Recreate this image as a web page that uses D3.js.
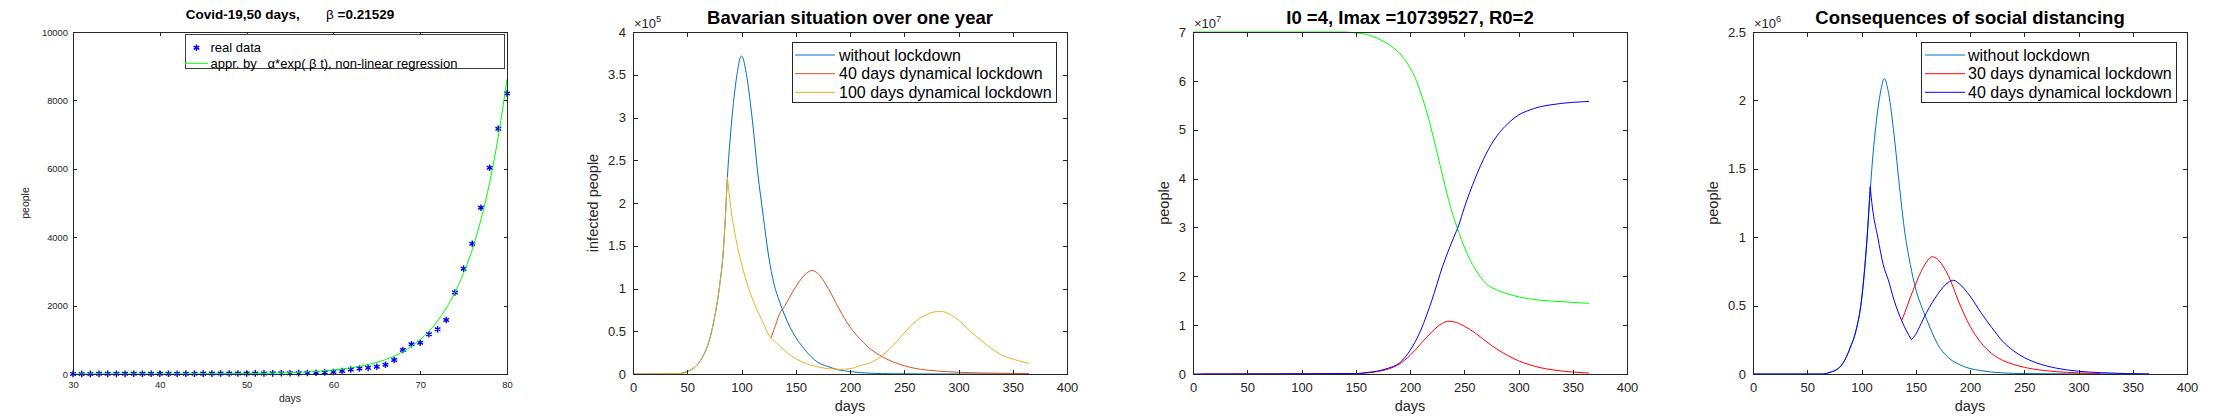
<!DOCTYPE html>
<html><head><meta charset="utf-8">
<script src="https://cdn.jsdelivr.net/npm/d3@7"></script>
<style>
html,body{margin:0;padding:0;background:#fff;}
svg{display:block;}
text{font-family:"Liberation Sans",Arial,Helvetica,sans-serif;}
</style></head><body>
<svg id="chart" width="2240" height="420"></svg>
<script>
// ---------- Panel 1: Covid-19, 50 days ----------
const p1Days = [30,31,32,33,34,35,36,37,38,39,40,41,42,43,44,45,46,47,48,49,50,51,52,53,54,55,56,57,58,59,60,61,62,63,64,65,66,67,68,69,70,71,72,73,74,75,76,77,78,79,80];
const p1Real = [3,3,3,4,4,5,5,6,6,7,8,8,9,10,10,11,12,13,14,15,16,17,18,19,20,22,25,30,35,45,60,90,130,160,180,210,270,410,700,870,915,1160,1305,1580,2385,3080,3810,4860,6030,7170,8200];
const p1FitDays = [30,35,40,45,50,55,60,62,64,66,68,70,72,74,75,76,77,78,79,80];
const p1Fit = [0.2,0.6,1.6,4.7,13.6,40,117,180,275,420,650,1005,1550,2385,2950,3640,4520,5600,6950,8620];
const p1XTicks = [30,40,50,60,70,80];
const p1YTicks = [0,2000,4000,6000,8000,10000];
const p1Legend = ["real data", "appr. by   \u03b1*exp( \u03b2 t), non-linear regression"];

// ---------- Panel 2: Bavarian situation (x 10^5) ----------
const p2WithoutDays = [0,40,50,55,60,65,70,75,80,83,85,87,90,95,100,105,110,115,120,125,130,135,140,145,150,160,170,180,190,200,210,220,240,270,300,330,365];
const p2Without = [0,0.002,0.03,0.06,0.12,0.22,0.38,0.65,1.05,1.4,1.8,2.3,2.82,3.43,3.72,3.47,2.97,2.35,1.85,1.38,1.05,0.85,0.68,0.54,0.43,0.26,0.14,0.086,0.047,0.03,0.015,0.008,0.003,0.001,0,0,0];
const p2L40Days = [127,130,135,140,150,160,165,170,180,190,200,210,220,230,240,250,260,270,280,290,300,320,340,365];
const p2L40 = [0.42,0.52,0.70,0.80,1.02,1.18,1.21,1.18,1.0,0.76,0.55,0.40,0.28,0.20,0.14,0.097,0.066,0.047,0.035,0.027,0.02,0.012,0.008,0.005];
const p2L100Days = [0,45,50,55,60,65,70,75,80,83,85,87,90,95,100,110,120,127,130,140,150,160,170,180,190,200,210,220,230,240,250,260,270,280,285,290,300,310,320,330,340,350,360,365];
const p2L100 = [0,0.005,0.03,0.06,0.12,0.22,0.38,0.65,1.05,1.4,1.8,2.3,1.96,1.57,1.29,0.88,0.6,0.42,0.39,0.27,0.18,0.12,0.085,0.062,0.055,0.062,0.1,0.14,0.22,0.34,0.48,0.61,0.69,0.73,0.73,0.71,0.63,0.51,0.40,0.30,0.22,0.175,0.14,0.125];
const p2Legend = ["without lockdown", "40 days dynamical lockdown", "100 days dynamical lockdown"];
const daysTicks = [0,50,100,150,200,250,300,350,400];
const p2YTicks = [0,0.5,1,1.5,2,2.5,3,3.5,4];

// ---------- Panel 3: SIR (x 10^7) ----------
const p3SDays = [0,140,150,160,170,180,190,200,205,210,216,222,228,234,240,245,250,255,260,270,280,290,300,320,340,365];
const p3S = [7.0,7.0,6.98,6.95,6.87,6.75,6.57,6.27,6.05,5.75,5.32,4.8,4.25,3.7,3.22,2.9,2.6,2.35,2.15,1.85,1.72,1.64,1.58,1.51,1.48,1.445];
const p3IDays = [7,150,160,170,180,190,200,210,220,230,236,240,250,260,270,280,290,300,310,320,330,340,350,365];
const p3I = [0,0.005,0.02,0.05,0.1,0.2,0.38,0.62,0.86,1.04,1.08,1.07,0.98,0.84,0.67,0.51,0.38,0.27,0.19,0.13,0.09,0.06,0.04,0.02];
const p3RDays = [0,150,160,170,180,190,200,210,220,230,240,245,250,260,270,280,290,300,310,320,330,340,350,365];
const p3R = [0,0.01,0.03,0.06,0.12,0.22,0.48,0.9,1.5,2.2,2.78,3.05,3.4,4.0,4.5,4.87,5.12,5.30,5.40,5.47,5.51,5.54,5.56,5.58];
const p3YTicks = [0,1,2,3,4,5,6,7];

// ---------- Panel 4: Consequences of social distancing (x 10^6) ----------
const p4WithoutDays = [0,65,70,80,90,95,100,105,110,115,118,121,125,130,135,140,145,150,155,160,170,180,190,200,210,220,230,250,300,365];
const p4Without = [0,0,0.01,0.05,0.2,0.32,0.54,0.98,1.55,1.93,2.08,2.16,2.05,1.75,1.37,1.03,0.8,0.62,0.5,0.4,0.22,0.12,0.07,0.04,0.025,0.014,0.008,0.003,0.001,0];
const p4L30Days = [137,140,145,150,155,160,165,170,175,180,190,200,210,220,230,240,250,260,270,280,300,320];
const p4L30 = [0.39,0.45,0.56,0.66,0.75,0.82,0.857,0.84,0.79,0.72,0.52,0.35,0.23,0.15,0.10,0.07,0.049,0.034,0.024,0.017,0.008,0.004];
const p4L40Days = [0,65,70,80,90,95,100,105,108,110,115,120,125,130,137,146,150,155,160,170,180,185,190,200,210,220,230,240,250,260,270,280,300,320,365];
const p4L40 = [0,0,0.01,0.05,0.2,0.32,0.54,0.98,1.37,1.22,1.0,0.8,0.68,0.54,0.39,0.25,0.29,0.37,0.45,0.58,0.67,0.685,0.66,0.57,0.45,0.34,0.24,0.17,0.12,0.085,0.06,0.042,0.02,0.01,0];
const p4YTicks = [0,0.5,1,1.5,2,2.5];
const p4Legend = ["without lockdown", "30 days dynamical lockdown", "40 days dynamical lockdown"];

// ---------- drawing ----------
const svg = d3.select('#chart');
const AX = {left: 73, top: 32, width: 434, height: 342};

const MATLAB = {tick: 4.5, tickFont: 13, xPad: 9, yPad: 7, labelFont: 14.5, titleFont: 18.5, titleY: 23.5,
  xlabelY: 411, axisColor: '#262626', legendFont: 16};
const OCTAVE = {tick: 3.5, tickFont: 9.4, xPad: 7.5, yPad: 5, labelFont: 10.5, titleFont: 13.5, titleY: 18.5,
  xlabelY: 401.5, axisColor: '#262626', legendFont: 13};

function splitAt(pts, cusps) {
  const segs = [];
  let cur = [];
  pts.forEach(p => {
    cur.push(p);
    if (cusps.includes(p[0])) { segs.push(cur); cur = [p]; }
  });
  if (cur.length > 1) segs.push(cur);
  return segs;
}

function drawPanel(p) {
  const s = p.style;
  const g = svg.append('g').attr('transform', `translate(${p.ox},0)`);
  const L = AX.left, T = AX.top, R = AX.left + AX.width, B = AX.top + AX.height;
  const x = d3.scaleLinear().domain(p.xDomain).range([L, R]);
  const y = d3.scaleLinear().domain(p.yDomain).range([B, T]);

  p.series.forEach(se => {
    const pts = se.x.map((d, i) => [d, se.y[i]]);
    if (se.type === 'line') {
      const line = d3.line().x(d => x(d[0])).y(d => y(d[1])).curve(d3.curveMonotoneX);
      splitAt(pts, se.cusps || []).forEach(seg => {
        g.append('path').attr('d', line(seg)).attr('fill', 'none')
          .attr('stroke', se.color).attr('stroke-width', se.width || 1);
      });
    } else {
      g.append('g').selectAll('path').data(pts).join('path')
        .attr('transform', d => `translate(${x(d[0])},${y(d[1])})`)
        .attr('d', d3.symbol(d3.symbolAsterisk, se.size)())
        .attr('fill', 'none').attr('stroke', se.color).attr('stroke-width', 1.4);
    }
  });

  const fmt = d => String(d);
  const axB = g.append('g').attr('transform', `translate(0,${B})`)
    .call(d3.axisBottom(x).tickValues(p.xTicks).tickSizeInner(-s.tick).tickSizeOuter(0).tickPadding(s.xPad).tickFormat(fmt));
  const axT = g.append('g').attr('transform', `translate(0,${T})`)
    .call(d3.axisTop(x).tickValues(p.xTicks).tickSizeInner(-s.tick).tickSizeOuter(0).tickFormat(() => ''));
  const axL = g.append('g').attr('transform', `translate(${L},0)`)
    .call(d3.axisLeft(y).tickValues(p.yTicks).tickSizeInner(-s.tick).tickSizeOuter(0).tickPadding(s.yPad).tickFormat(fmt));
  const axR = g.append('g').attr('transform', `translate(${R},0)`)
    .call(d3.axisRight(y).tickValues(p.yTicks).tickSizeInner(-s.tick).tickSizeOuter(0).tickFormat(() => ''));
  [axB, axT, axL, axR].forEach(a => {
    a.select('.domain').remove();
    a.selectAll('line').attr('stroke', s.axisColor).attr('shape-rendering', 'crispEdges');
    a.selectAll('text').attr('fill', s.axisColor).style('font-size', s.tickFont + 'px')
      .style('font-family', '"Liberation Sans", Arial, sans-serif');
  });
  g.append('rect').attr('x', L).attr('y', T).attr('width', AX.width).attr('height', AX.height)
    .attr('fill', 'none').attr('stroke', s.axisColor).attr('shape-rendering', 'crispEdges');

  if (p.exponent) {
    const t = g.append('text').attr('x', L + 1).attr('y', T - 4).attr('fill', s.axisColor)
      .style('font-size', s.tickFont + 'px');
    t.append('tspan').text('\u00d710');
    t.append('tspan').attr('dy', -6).style('font-size', (s.tickFont * 0.72) + 'px').text(p.exponent);
  }

  const tt = g.append('text').attr('x', (L + R) / 2).attr('y', s.titleY).attr('text-anchor', 'middle')
    .attr('fill', '#000').style('font-size', s.titleFont + 'px').style('font-weight', 'bold')
    .style('white-space', 'pre');
  p.title.forEach(part => {
    tt.append('tspan').style('font-weight', part.w || 'bold').text(part.t);
  });

  g.append('text').attr('x', (L + R) / 2).attr('y', s.xlabelY).attr('text-anchor', 'middle')
    .attr('fill', s.axisColor).style('font-size', s.labelFont + 'px').text(p.xlabel);
  let maxW = 0;
  axL.selectAll('text').each(function () { maxW = Math.max(maxW, this.getComputedTextLength()); });
  const yl = L - s.yPad - maxW - p.ylabelGap;
  g.append('text').attr('transform', `translate(${yl},${(T + B) / 2}) rotate(-90)`)
    .attr('text-anchor', 'middle').attr('fill', s.axisColor)
    .style('font-size', s.labelFont + 'px').text(p.ylabel);

  if (p.legend) {
    const lg = p.legend;
    g.append('rect').attr('x', lg.x).attr('y', lg.y).attr('width', lg.w).attr('height', lg.h)
      .attr('fill', '#fff').attr('stroke', lg.border).attr('stroke-width', 1).attr('shape-rendering', 'crispEdges');
    lg.items.forEach((it, i) => {
      const cy = lg.rows[i];
      if (it.marker) {
        g.append('path').attr('transform', `translate(${(lg.lineX0 + lg.lineX1) / 2},${cy})`)
          .attr('d', d3.symbol(d3.symbolAsterisk, it.size)())
          .attr('fill', 'none').attr('stroke', it.color).attr('stroke-width', 1.4);
      } else {
        g.append('line').attr('x1', lg.lineX0).attr('x2', lg.lineX1).attr('y1', cy).attr('y2', cy)
          .attr('stroke', it.color).attr('stroke-width', 1);
      }
      g.append('text').attr('x', lg.textX).attr('y', cy).attr('dy', '0.35em').attr('fill', '#000')
        .style('font-size', s.legendFont + 'px').style('white-space', 'pre').text(it.label);
    });
  }
}

const cBlue = '#0072BD', cOrange = '#D95319', cYellow = '#EDB120';

drawPanel({
  ox: 0, style: OCTAVE, xDomain: [30, 80], yDomain: [0, 10000], xTicks: p1XTicks, yTicks: p1YTicks,
  title: [{t: 'Covid-19,50 days,       '}, {t: '\u03b2', w: 'normal'}, {t: ' =0.21529'}],
  xlabel: 'days', ylabel: 'people', ylabelGap: 13,
  series: [
    {type: 'marker', x: p1Days, y: p1Real, color: '#0000ff', size: 30},
    {type: 'line', x: p1FitDays, y: p1Fit, color: '#00ff00'}
  ],
  legend: {x: 185, y: 34.5, w: 319, h: 34, border: '#404040', lineX0: 185, lineX1: 208, textX: 210.5, rows: [47.7, 63.3],
    items: [{label: p1Legend[0], color: '#0000ff', marker: true, size: 30}, {label: p1Legend[1], color: '#00ff00'}]}
});

drawPanel({
  ox: 560, style: MATLAB, xDomain: [0, 400], yDomain: [0, 4], xTicks: daysTicks, yTicks: p2YTicks,
  exponent: '5', title: [{t: 'Bavarian situation over one year'}],
  xlabel: 'days', ylabel: 'infected people', ylabelGap: 10,
  series: [
    {type: 'line', x: p2WithoutDays, y: p2Without, color: cBlue},
    {type: 'line', x: p2L40Days, y: p2L40, color: cOrange},
    {type: 'line', x: p2L100Days, y: p2L100, color: cYellow, cusps: [87]}
  ],
  legend: {x: 232.5, y: 42.5, w: 264, h: 60, border: '#262626', lineX0: 235, lineX1: 275, textX: 279, rows: [55, 73.7, 92.3],
    items: [{label: p2Legend[0], color: cBlue}, {label: p2Legend[1], color: cOrange}, {label: p2Legend[2], color: cYellow}]}
});

drawPanel({
  ox: 1120, style: MATLAB, xDomain: [0, 400], yDomain: [0, 7], xTicks: daysTicks, yTicks: p3YTicks,
  exponent: '7', title: [{t: 'I0 =4, Imax =10739527, R0=2'}],
  xlabel: 'days', ylabel: 'people', ylabelGap: 10,
  series: [
    {type: 'line', x: p3SDays, y: p3S, color: '#00ff00'},
    {type: 'line', x: p3IDays, y: p3I, color: '#ff0000'},
    {type: 'line', x: p3RDays, y: p3R, color: '#0000ff'}
  ]
});

drawPanel({
  ox: 1680, style: MATLAB, xDomain: [0, 400], yDomain: [0, 2.5], xTicks: daysTicks, yTicks: p4YTicks,
  exponent: '6', title: [{t: 'Consequences of social distancing'}],
  xlabel: 'days', ylabel: 'people', ylabelGap: 10,
  series: [
    {type: 'line', x: p4WithoutDays, y: p4Without, color: cBlue},
    {type: 'line', x: p4L30Days, y: p4L30, color: '#ff0000'},
    {type: 'line', x: p4L40Days, y: p4L40, color: '#0000ff', cusps: [108, 146]}
  ],
  legend: {x: 241.5, y: 42, w: 255, h: 60.5, border: '#262626', lineX0: 245, lineX1: 285, textX: 288, rows: [55, 73.7, 92.3],
    items: [{label: p4Legend[0], color: cBlue}, {label: p4Legend[1], color: '#ff0000'}, {label: p4Legend[2], color: '#0000ff'}]}
});
</script>
</body></html>
